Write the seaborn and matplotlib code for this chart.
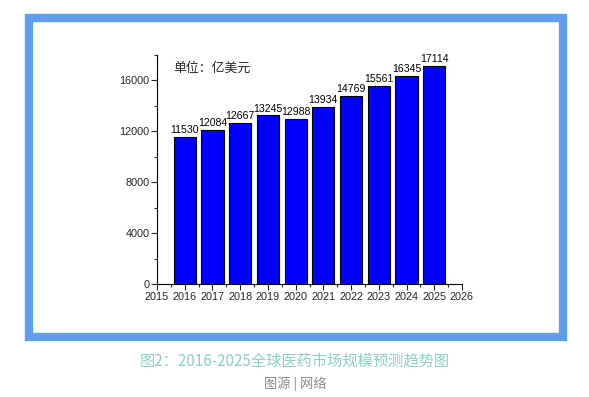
import matplotlib
matplotlib.use("Agg")
import matplotlib.pyplot as plt
import seaborn as sns
import pandas as pd
from matplotlib.patches import Rectangle
from matplotlib.ticker import MultipleLocator

years = [2016, 2017, 2018, 2019, 2020, 2021, 2022, 2023, 2024, 2025]
values = [11530, 12084, 12667, 13245, 12988, 13934, 14769, 15561, 16345, 17114]
caption = "图2：2016-2025全球医药市场规模预测趋势图"
source = "图源 | 网络"
unit = "单位：亿美元"

df = pd.DataFrame({"year": years, "value": values})

sns.set_style("ticks")
plt.rcParams["font.family"] = ["Liberation Sans", "Noto Sans CJK SC", "DejaVu Sans"]

fig = plt.figure(figsize=(5.89, 3.97), dpi=100)
ax = fig.add_axes([157 / 589, 1 - 284 / 397, 305 / 589, 229 / 397])

# native scale so bars sit on real year positions
sns.barplot(data=df, x="year", y="value", native_scale=True, color="#0000ff",
            saturation=1, edgecolor="black", linewidth=0.8, width=0.8, ax=ax)
for x, v in zip(years, values):
    ax.text(x, v + 150, str(v), ha="center", va="bottom", fontsize=7.6, color="black")

ax.set_xlim(2015, 2026)
ax.set_ylim(0, 18000)
ax.set_xticks(range(2015, 2027))
ax.xaxis.set_minor_locator(MultipleLocator(0.5))
ax.yaxis.set_major_locator(MultipleLocator(4000))
ax.yaxis.set_minor_locator(MultipleLocator(2000))
ax.tick_params(axis="both", which="major", labelsize=7.8, length=4, width=0.8, pad=1.5)
ax.tick_params(axis="both", which="minor", length=2.5, width=0.8)
ax.set_xlabel("")
ax.set_ylabel("")
for s in ["top", "right"]:
    ax.spines[s].set_visible(False)
for s in ["left", "bottom"]:
    ax.spines[s].set_linewidth(0.8)
    ax.spines[s].set_color("black")

ax.text(2015.6, 17000, unit, fontsize=9.3, family=["Noto Sans CJK SC", "DejaVu Sans"],
        ha="left", va="center")

# blue frame around the chart
fig.patches.append(Rectangle((29 / 589, 1 - 337 / 397), 534 / 589, 319 / 397,
                             transform=fig.transFigure, fill=False,
                             edgecolor="#609ded", linewidth=6))

fig.text(295 / 589, 1 - 361 / 397, caption, ha="center", va="center", fontsize=11,
         color="#8ccfc8", family=["Noto Sans CJK SC", "DejaVu Sans"])
fig.text(295 / 589, 1 - 384 / 397, source, ha="center", va="center", fontsize=9.5,
         color="#8a8a8a", family=["Noto Sans CJK SC", "DejaVu Sans"])

fig.savefig("out.png", dpi=100)
